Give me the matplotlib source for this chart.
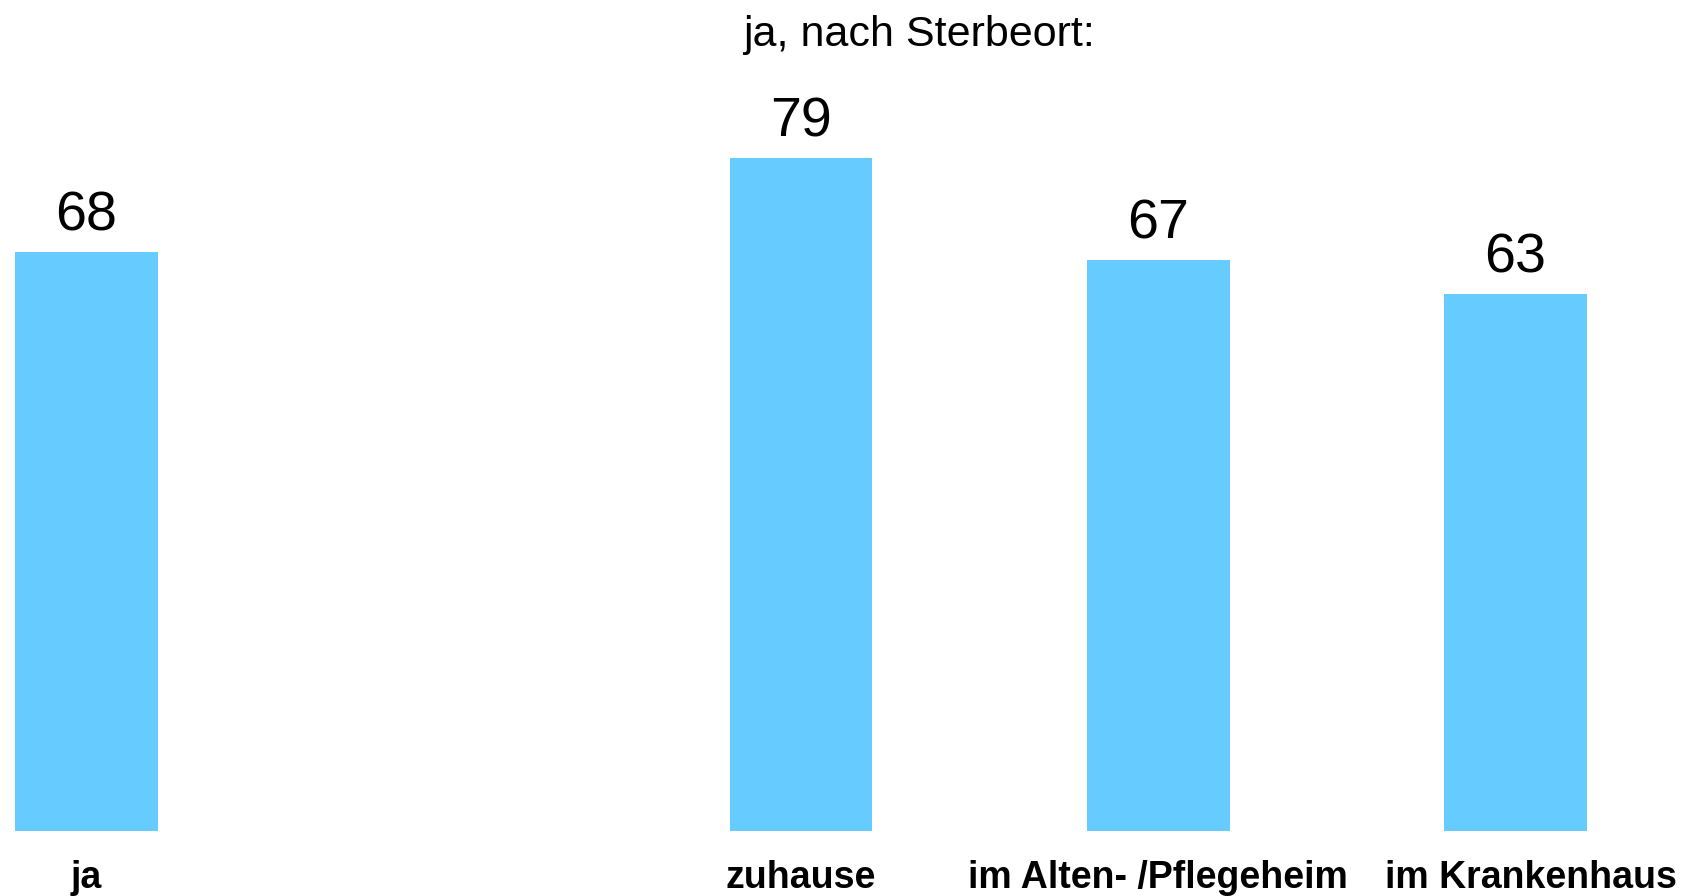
import matplotlib.pyplot as plt

plt.rcParams['font.family'] = ['Liberation Sans', 'DejaVu Sans']

# categories and values (percent)
categories = ["ja", "zuhause", "im Alten- /Pflegeheim", "im Krankenhaus"]
values = [68, 79, 67, 63]
positions = [0, 2, 3, 4]
group_title = "ja, nach Sterbeort:"

bar_color = '#66CCFF'
# small horizontal nudge (points) for category labels to avoid collisions
label_shift = [0, 0, 0, 11]

fig = plt.figure(figsize=(16.88, 8.96), dpi=100)
# axes placed so that baseline sits at y=831px and 90 units span ~767px
ax = fig.add_axes([15 / 1688, 65 / 896, 1572 / 1688, 766.7 / 896])
ax.bar(positions, values, width=0.4, color=bar_color)
ax.set_xlim(-0.2, 4.2)
ax.set_ylim(0, 90)
ax.axis('off')

for x, v, lab, dx in zip(positions, values, categories, label_shift):
    ax.annotate(str(v), xy=(x, v), xytext=(0, 15.5), textcoords='offset points',
                ha='center', va='baseline', fontsize=40)
    ax.annotate(lab, xy=(x, 0), xytext=(dx, -41), textcoords='offset points',
                ha='center', va='baseline', fontsize=27, fontweight='bold',
                annotation_clip=False)

fig.text(919 / 1688, 1 - 46 / 896, group_title, ha='center', va='baseline', fontsize=31)

fig.savefig('out.png', dpi=100)
